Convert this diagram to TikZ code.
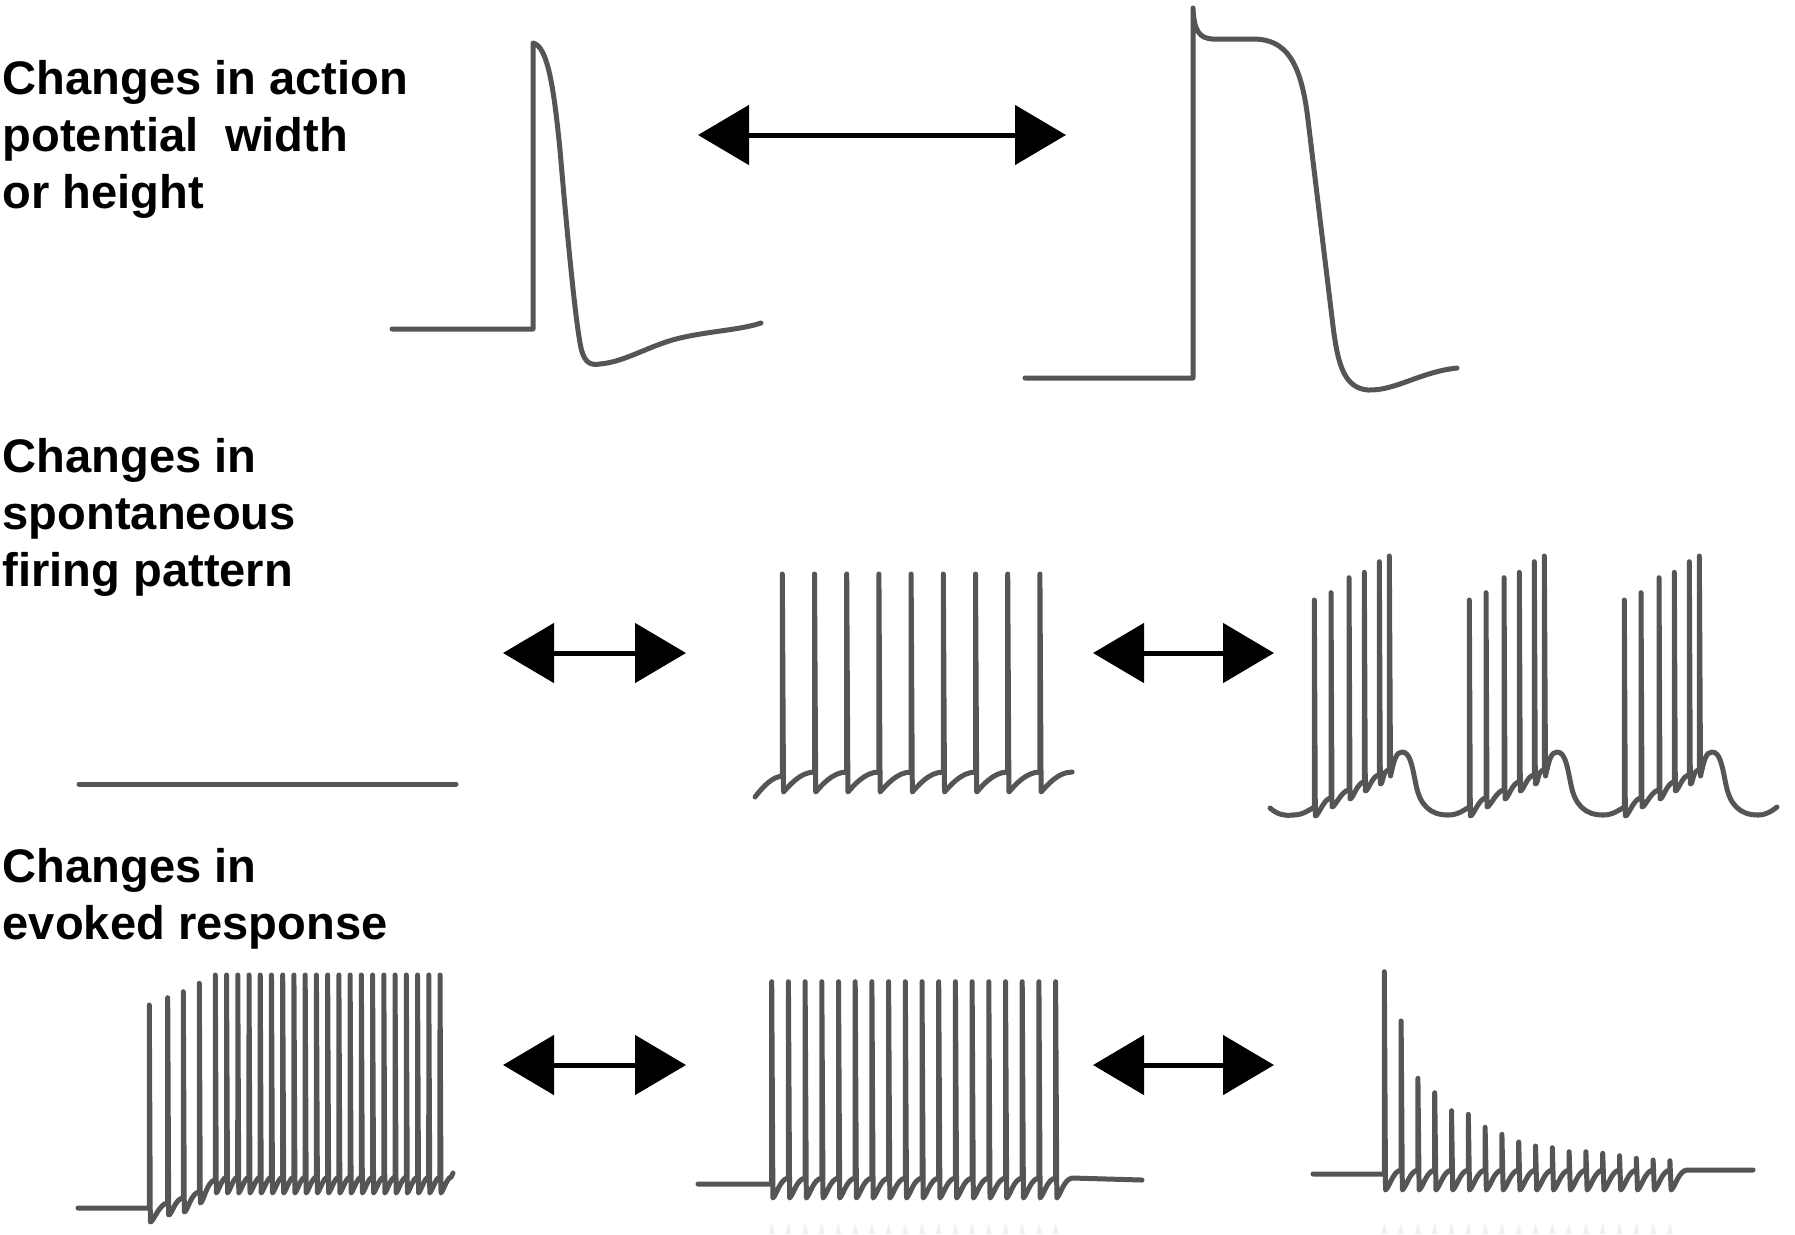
\documentclass[tikz,border=0pt]{standalone}
\usepackage{fontspec}
\setmainfont{Liberation Sans}
\usetikzlibrary{positioning,arrows.meta}
\definecolor{tracegray}{RGB}{85,85,85}
\tikzset{
  trace/.style={draw=tracegray, line width=0.5mm, line join=round, line cap=round},
  dblarrow/.style={{Triangle[length=5.1mm,width=5.9mm]}-{Triangle[length=5.1mm,width=5.9mm]}, line width=0.5mm},
  rowlabel/.style={anchor=base west, align=left, inner sep=0pt, font=\fontsize{13.4}{16.1}\selectfont\bfseries},
  stimmark/.style={fill=gray!12, draw=none}
}

\begin{document}
\begin{tikzpicture}[x=0.1mm,y=-0.1mm]
  \useasboundingbox (0,0) rectangle (1795,1234);

  \node[rowlabel] (aplabel) at (2,208) {Changes in action\\potential~~width\\or height};
  \node[rowlabel] (spontlabel) at (2,586) {Changes in\\spontaneous\\firing pattern};
  \node[rowlabel] (evokedlabel) at (2,939) {Changes in\\evoked response};

  % action potentials
  \draw[trace] (392,329) -- (533,329) -- (533,43)
    .. controls (548,46) and (554,90) .. (560,150)
    .. controls (566,220) and (575,320) .. (581,348)
    .. controls (585,365) and (592,365) .. (600,364)
    .. controls (625,362) and (650,345) .. (680,338)
    .. controls (710,331) and (740,330) .. (761,323);
  \draw[trace] (1025,378) -- (1193,378) -- (1193,8)
    .. controls (1194,32) and (1200,38) .. (1212,39) -- (1255,39)
    .. controls (1285,40) and (1301,60) .. (1308,120) -- (1332,318)
    .. controls (1337,360) and (1342,388) .. (1368,390)
    .. controls (1395,391) and (1420,372) .. (1457,368);

  \coordinate (apL) at (698,135);
  \coordinate (apR) at (1066,135);
  \draw[dblarrow] (apL) -- (apR);

  % spontaneous firing
  \draw[trace] (79,784) -- (456,784);
  \draw[trace] (755,797) .. controls (765,784) and (773,777) .. (782.3,776)
    \foreach \k in {0,...,8} {
      -- ({782.3+32.2*\k},574) -- ({783.5+32.2*\k},792)
      .. controls ({789+32.2*\k},786) and ({800+32.2*\k},772) .. ({814.5+32.2*\k},772)
    };
  \draw[trace] (1270,808) .. controls (1278,815) and (1285,816) .. (1293,815);
  \foreach \sh in {0,1,2} {
    \draw[trace, shift={(155*\sh,0)}] (1293,815) .. controls (1303,815) and (1309,810) .. (1314.3,807)
      \foreach \x/\tp/\bs/\nx/\nb in {1314.3/600/807/1331/798, 1331/592.7/798/1349/790,
          1349/577.7/790/1364.3/782, 1364.3/572.3/782/1379.3/775, 1379.3/561.7/775/1389.3/770} {
        -- (\x,\tp) -- ({\x+1},{\bs+9}) .. controls ({\x+4},{\bs+9}) and ({\nx-7},\nb) .. (\nx,\nb)
      }
      -- (1389.3,556) -- (1390.5,776) .. controls (1394,760) and (1396,752) .. (1402,752)
      .. controls (1410,752) and (1412,765) .. (1416,785)
      .. controls (1420,805) and (1430,815) .. (1448,815);
  }
  \draw[trace] (1758,815) .. controls (1766,815) and (1772,811) .. (1777,807);

  \coordinate (spAL) at (503,653);
  \coordinate (spAR) at (686,653);
  \coordinate (spBL) at (1093,653);
  \coordinate (spBR) at (1274,653);
  \draw[dblarrow] (spAL) -- (spAR);
  \draw[dblarrow] (spBL) -- (spBR);

  % evoked response
  \draw[trace] (78,1208) -- (149.3,1208)
    \foreach \x/\tp/\tr/\nx/\nb in {149.3/1005/1222/167.7/1203, 167.7/997.7/1215/183.3/1198,
        183.3/991.7/1212/199.3/1192, 199.3/983.3/1203/215.3/1180} {
      -- (\x,\tp) -- ({\x+1},\tr) .. controls ({\x+4},\tr) and ({\nx-8},\nb) .. (\nx,\nb)
    }
    \foreach \k in {0,...,20} {
      -- ({215.3+11.235*\k},975) -- ({216.3+11.235*\k},1193)
      .. controls ({219+11.235*\k},1190) and ({222+11.235*\k},1178) .. ({226.5+11.235*\k},1177)
    }
    -- (453,1173);
  \draw[trace] (698,1184) -- (771.7,1184)
    \foreach \k in {0,...,17} {
      -- ({771.7+16.7*\k},981.7) -- ({772.9+16.7*\k},1198)
      .. controls ({777+16.7*\k},1194) and ({780+16.7*\k},1179) .. ({788.4+16.7*\k},1178)
    }
    -- (1142,1180);
  \draw[trace] (1313,1174) -- (1384.3,1174)
    \foreach \k/\tp in {0/971.7,1/1021,2/1078.3,3/1092.7,4/1110.7,5/1114.3,6/1127.3,7/1134.3,8/1142,
        9/1146,10/1147.7,11/1151.7,12/1151.7,13/1153.3,14/1155.7,15/1158.3,16/1160,17/1160.7} {
      -- ({1384.3+16.8*\k},\tp) -- ({1385.5+16.8*\k},1190)
      .. controls ({1390+16.8*\k},1186) and ({1393+16.8*\k},1171) .. ({1401.1+16.8*\k},1170)
    }
    -- (1753,1170);
  \foreach \k in {0,...,17} {
    \fill[stimmark] ({768.7+16.7*\k},1234) -- ({771.7+16.7*\k},1223) -- ({774.7+16.7*\k},1234) -- cycle;
    \fill[stimmark] ({1381.3+16.8*\k},1234) -- ({1384.3+16.8*\k},1223) -- ({1387.3+16.8*\k},1234) -- cycle;
  }

  \coordinate (evAL) at (503,1065);
  \coordinate (evAR) at (686,1065);
  \coordinate (evBL) at (1093,1065);
  \coordinate (evBR) at (1274,1065);
  \draw[dblarrow] (evAL) -- (evAR);
  \draw[dblarrow] (evBL) -- (evBR);
\end{tikzpicture}
\end{document}
